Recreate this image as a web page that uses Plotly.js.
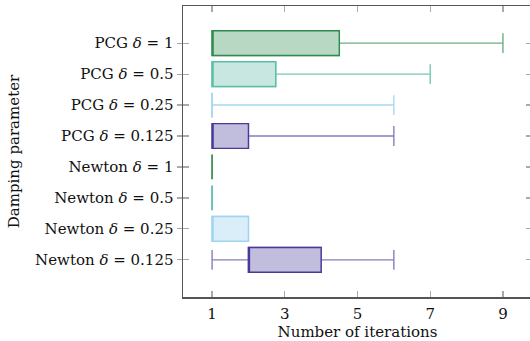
<!DOCTYPE html>
<html><head><meta charset="utf-8">
<script src="https://cdn.plot.ly/plotly-3.0.1.min.js"></script>
<style>html,body{margin:0;padding:0;overflow:hidden;background:#fff}#chart{width:534px;height:341px}</style>
</head><body><div id="chart"></div>
<script>
const categories = ['PCG <i>δ</i> = 1','PCG <i>δ</i> = 0.5','PCG <i>δ</i> = 0.25','PCG <i>δ</i> = 0.125',
  'Newton <i>δ</i> = 1','Newton <i>δ</i> = 0.5','Newton <i>δ</i> = 0.25','Newton <i>δ</i> = 0.125'];
const minVals    = [1, 1, 1, 1, 1, 1, 1, 1];
const q1Vals     = [1, 1, 1, 1, 1, 1, 1, 2];
const medianVals = [1, 1, 1, 1, 1, 1, 1, 2];
const q3Vals     = [4.5, 2.75, 1, 2, 1, 1, 2, 4];
const maxVals    = [9, 7, 6, 6, 1, 1, 2, 6];
const xTicks = [1, 3, 5, 7, 9];

const strokeColors  = ['#2e8b4e','#5bbea6','#9fd5f0','#48399a','#2e8b4e','#5bbea6','#9fd5f0','#48399a'];
const whiskerColors = ['rgba(46,139,78,0.7)','rgba(91,190,166,0.85)','rgba(159,213,240,0.9)','rgba(72,57,154,0.65)',
                       'rgba(46,139,78,0.7)','rgba(91,190,166,0.85)','rgba(159,213,240,0.9)','rgba(72,57,154,0.65)'];
const fillColors    = ['#b9d8c3','#c8e7e1','#daeef9','#c1bddd','#b9d8c3','#c8e7e1','#daeef9','#c1bddd'];

const traces = [];
categories.forEach((c, i) => {
  traces.push({
    type: 'box', orientation: 'h', y: [c],
    q1: [q1Vals[i]], median: [medianVals[i]], q3: [q3Vals[i]],
    lowerfence: [minVals[i]], upperfence: [maxVals[i]],
    line: {color: whiskerColors[i], width: 1.4}, fillcolor: 'rgba(0,0,0,0)',
    width: 0.8, whiskerwidth: 0.8, showlegend: false, hoverinfo: 'skip'
  });
  traces.push({
    type: 'box', orientation: 'h', y: [c],
    q1: [q1Vals[i]], median: [medianVals[i]], q3: [q3Vals[i]],
    lowerfence: [q1Vals[i]], upperfence: [q3Vals[i]],
    line: {color: strokeColors[i], width: 1.4}, fillcolor: fillColors[i],
    width: 0.8, whiskerwidth: 0, showlegend: false, hoverinfo: 'skip'
  });
});
traces.push({type:'scatter', x:[null], y:[categories[0]], yaxis:'y2', showlegend:false, hoverinfo:'skip'});

const font = {family: 'DejaVu Serif, Liberation Serif, serif', size: 15, color: '#111'};
const layout = {
  width: 534, height: 341,
  margin: {l: 183, r: 2, t: 6, b: 44},
  paper_bgcolor: '#fff', plot_bgcolor: '#fff',
  font: font, boxmode: 'overlay',
  xaxis: {
    range: [0.2, 9.8], tickvals: xTicks, ticks: 'inside', ticklen: 6, tickcolor: '#aaa', tickwidth: 1.2,
    showline: true, linecolor: '#555', linewidth: 1.5, mirror: 'ticks', showgrid: false, zeroline: false,
    title: {text: 'Number of iterations', font: font, standoff: 5}, ticklabelstandoff: 2
  },
  yaxis: {
    type: 'category', categoryarray: categories, range: [8.2, -1.2],
    ticks: 'outside', ticklen: 5, tickcolor: '#aaa', tickwidth: 1.2,
    showline: true, linecolor: '#555', linewidth: 1.5, mirror: true, showgrid: false, zeroline: false,
    title: {text: 'Damping parameter', font: font, standoff: 12}
  },
  yaxis2: {
    type: 'category', categoryarray: categories, range: [8.2, -1.2], overlaying: 'y',
    ticks: 'inside', ticklen: 6, tickcolor: '#aaa', tickwidth: 1.2, mirror: 'ticks',
    showticklabels: false, showgrid: false, zeroline: false, showline: false
  }
};
Plotly.newPlot('chart', traces, layout, {staticPlot: true, displayModeBar: false});
</script></body></html>
